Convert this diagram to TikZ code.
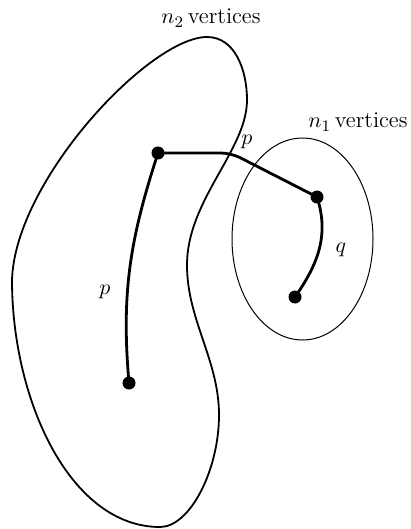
\documentclass[tikz,border=0pt]{standalone}
\usetikzlibrary{positioning}

\begin{document}
\begin{tikzpicture}[
    x=0.5pt, y=-0.5pt,
    vertex/.style={circle, fill, inner sep=0pt, minimum size=6.5pt},
    region/.style={line width=0.9pt},
    walk/.style={line width=1.4pt},
    lbl/.style={inner sep=1pt, font=\fontsize{11.3pt}{13pt}\selectfont}
  ]
    \useasboundingbox (0,0) rectangle (411,529);

    % the two vertex sets
    \draw[region] (207,37) .. controls (235,37) and (247,70) .. (247,100)
      .. controls (247,150) and (187,200) .. (187,265)
      .. controls (187,320) and (219,360) .. (219,415)
      .. controls (219,470) and (190,527) .. (160,527)
      .. controls (70,527) and (12,400) .. (12,280)
      .. controls (15,180) and (150,37) .. (207,37) -- cycle;
    \draw[line width=0.5pt] (302.5,239) ellipse [x radius=70.5, y radius=101];

    \node[lbl] (n2) at (211,18) {$n_2$\,vertices};
    \node[lbl] (n1) at (358,122) {$n_1$\,vertices};

    \node[vertex] (a) at (158,153) {};
    \node[vertex] (b) at (317,197) {};
    \node[vertex] (c) at (295,297) {};
    \node[vertex] (d) at (129,383) {};

    \draw[walk, rounded corners=5pt] (a.center) -- (231,153) -- (b.center);
    \draw[walk] (b.center) to[out=-72, in=55] (c.center);
    \draw[walk] (a.center) to[out=-108, in=95] (d.center);

    \node[lbl] (pt) at (247,142) {$p$};
    \node[lbl] (q) at (341,250) {$q$};
    \node[lbl] (pl) at (105,292) {$p$};
  \end{tikzpicture}
\end{document}
